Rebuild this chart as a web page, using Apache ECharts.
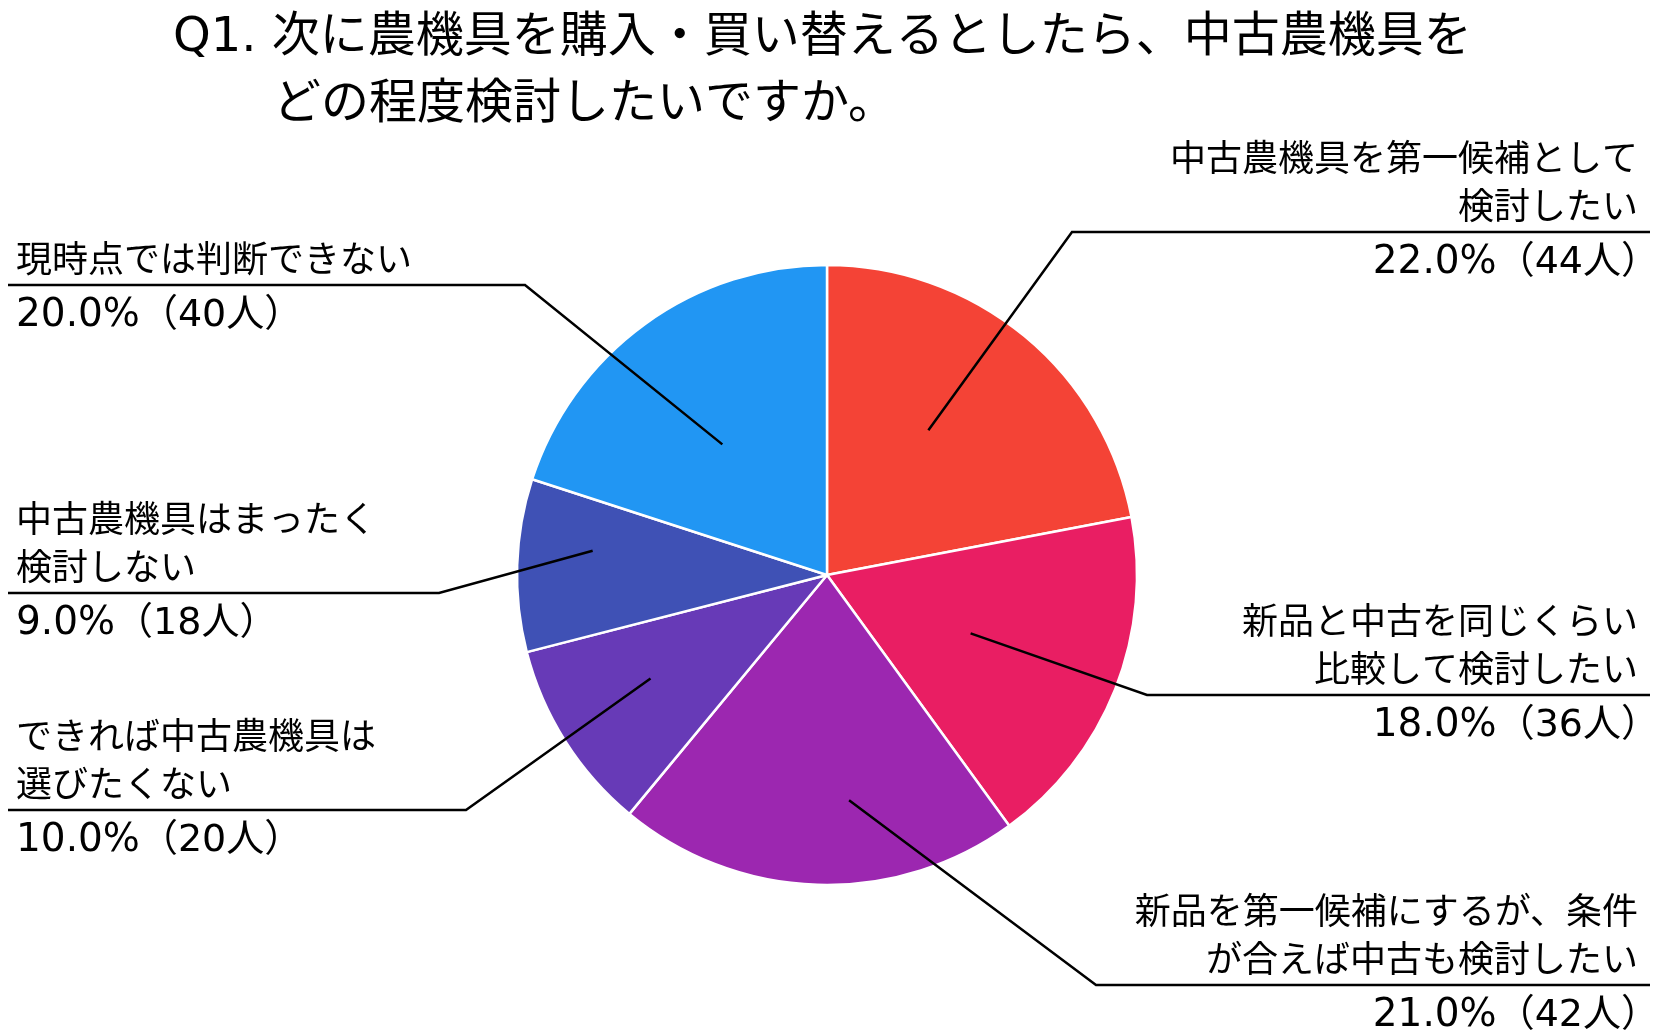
<!DOCTYPE html>
<html lang="ja">
<head>
    <meta charset="utf-8">
    <title>Q1. 中古農機具の検討度合い</title>
    <script src="https://cdn.jsdelivr.net/npm/echarts@6.0.0/dist/echarts.min.js"></script>
    <style>
        html, body { margin: 0; padding: 0; background: #fff; }
        #main { width: 1657px; height: 1031px; }
    </style>
</head>
<body>
<div id="main"></div>
<script>
    // データ（時計回り、12時の位置から）
    var categories = [
        '中古農機具を第一候補として\n検討したい',
        '新品と中古を同じくらい\n比較して検討したい',
        '新品を第一候補にするが、条件\nが合えば中古も検討したい',
        'できれば中古農機具は\n選びたくない',
        '中古農機具はまったく\n検討しない',
        '現時点では判断できない'
    ];
    var percents = [22.0, 18.0, 21.0, 10.0, 9.0, 20.0];
    var counts = [44, 36, 42, 20, 18, 40];
    var colors = ['#F44336', '#E91E63', '#9C27B0', '#673AB7', '#3F51B5', '#2196F3'];

    // ラベルの配置（引き出し線）
    var pieCenter = [827, 575], pieRadius = 310;
    var labelSide = ['right', 'right', 'right', 'left', 'left', 'left'];
    var lineY = [232, 695, 985, 810, 593, 285];
    var elbowX = [1072, 1147, 1096, 466, 439, 525];
    var startFrac = [0.57, 0.50, 0.73, 0.66, 0.76, 0.54];
    var startShift = [-4.6, 0.5, -7.4, 2, 4.1, -2.7];
    var rightTextX = 1638, leftTextX = 16, rightLineEnd = 1650, leftLineEnd = 8;
    var nameLH = 48, valueGap = 31, parenPad = 21;

    var jpFont = '"Noto Sans CJK JP", sans-serif';
    var numFont = '"DejaVu Sans", "Noto Sans CJK JP", sans-serif';

    var myChart = echarts.init(document.getElementById('main'));

    var option = {
        backgroundColor: '#fff',
        animation: false,
        title: [{
            text: 'Q1. 次に農機具を購入・買い替えるとしたら、中古農機具を',
            left: 173,
            top: 15,
            padding: 0,
            textStyle: { color: '#000', fontSize: 48, fontWeight: 'normal', fontFamily: numFont }
        }, {
            text: 'どの程度検討したいですか。',
            left: 273,
            top: 76,
            padding: 0,
            textStyle: { color: '#000', fontSize: 48, fontWeight: 'normal', fontFamily: jpFont }
        }],
        series: [{
            // 円グラフ本体 + 割合ラベル
            type: 'pie',
            z: 2,
            center: pieCenter,
            radius: pieRadius,
            startAngle: 90,
            clockwise: true,
            avoidLabelOverlap: false,
            emphasis: { disabled: true },
            itemStyle: { borderColor: '#fff', borderWidth: 2.5 },
            label: {
                show: true,
                position: 'outside',
                color: '#000',
                formatter: function (p) {
                    var i = p.dataIndex;
                    return '{v|' + percents[i].toFixed(1) + '%}{p|（' + counts[i] + '人）}';
                },
                rich: {
                    v: { fontSize: 39, fontFamily: numFont, color: '#000' },
                    p: { fontSize: 38, fontFamily: numFont, color: '#000' }
                }
            },
            labelLine: { show: false },
            labelLayout: function (params) {
                var i = params.dataIndex;
                var right = labelSide[i] === 'right';
                return {
                    x: right ? rightTextX + parenPad : leftTextX,
                    y: lineY[i] + valueGap,
                    align: right ? 'right' : 'left',
                    verticalAlign: 'middle'
                };
            },
            data: categories.map(function (name, i) {
                return { name: name, value: counts[i], itemStyle: { color: colors[i] } };
            })
        }, {
            // 項目名ラベル + 引き出し線（透明な円を上に重ねる）
            type: 'pie',
            z: 3,
            silent: true,
            center: pieCenter,
            radius: pieRadius,
            startAngle: 90,
            clockwise: true,
            avoidLabelOverlap: false,
            emphasis: { disabled: true },
            itemStyle: { color: 'rgba(0,0,0,0)', borderWidth: 0 },
            label: {
                show: true,
                position: 'outside',
                color: '#000',
                fontSize: 36,
                lineHeight: nameLH,
                fontFamily: jpFont,
                formatter: '{b}'
            },
            labelLine: {
                show: true,
                length: 10,
                length2: 10,
                lineStyle: { color: '#000', width: 2.5 }
            },
            labelLayout: function (params) {
                var i = params.dataIndex;
                var p0 = params.labelLinePoints[0];
                var ux = (p0[0] - pieCenter[0]) / pieRadius;
                var uy = (p0[1] - pieCenter[1]) / pieRadius;
                var a = startShift[i] * Math.PI / 180;
                var rx = ux * Math.cos(a) - uy * Math.sin(a);
                var ry = ux * Math.sin(a) + uy * Math.cos(a);
                var k = startFrac[i] * pieRadius;
                var start = [pieCenter[0] + rx * k, pieCenter[1] + ry * k];
                var right = labelSide[i] === 'right';
                return {
                    x: right ? rightTextX : leftTextX,
                    y: lineY[i] - 3,
                    align: right ? 'right' : 'left',
                    verticalAlign: 'bottom',
                    labelLinePoints: [start, [elbowX[i], lineY[i]], [right ? rightLineEnd : leftLineEnd, lineY[i]]]
                };
            },
            data: categories.map(function (name, i) {
                return { name: name, value: counts[i] };
            })
        }]
    };

    myChart.setOption(option);
</script>
</body>
</html>
